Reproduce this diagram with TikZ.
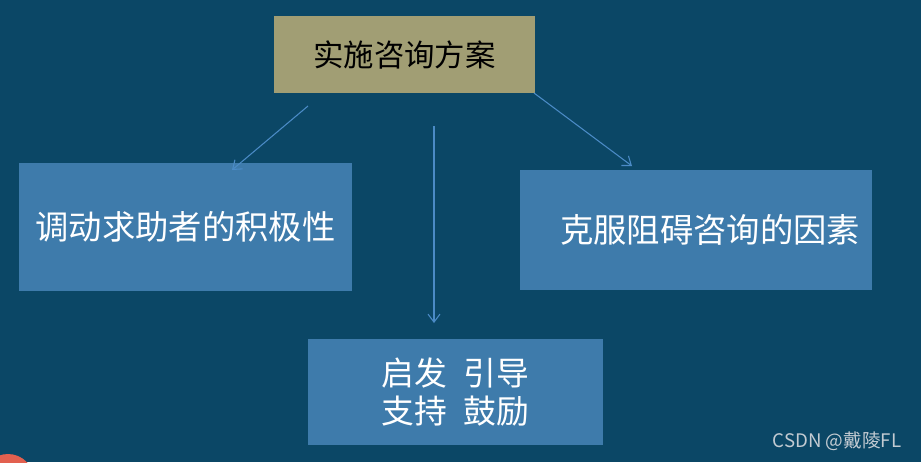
\documentclass[tikz,border=0pt]{standalone}
\usepackage{fontspec}
\newfontfamily\cjk{Noto Sans CJK SC}
\usetikzlibrary{arrows.meta}
\definecolor{bgblue}{HTML}{0B4766}
\definecolor{boxblue}{HTML}{3E7BAB}
\definecolor{olive}{HTML}{A19E74}
\definecolor{arrowblue}{HTML}{4B8BC6}
\definecolor{redc}{HTML}{E2604F}
\definecolor{wm}{HTML}{C3CBD2}
\tikzset{
  bluebox/.style={fill=boxblue, draw=none, inner sep=0pt, text=white, font=\cjk\fontsize{25}{29}\selectfont, align=center},
  topbox/.style={fill=olive, draw=none, inner sep=0pt, text=black, font=\cjk\fontsize{22.8}{26}\selectfont},
  conn/.style={draw=arrowblue, line width=0.8pt, -{Straight Barb[length=6pt,width=9pt]}}
}
\begin{document}
\begin{tikzpicture}[x=0.75pt,y=-0.75pt]
\fill[bgblue] (0,0) rectangle (921,462);
\useasboundingbox (0,0) rectangle (921,462);
\begin{scope}
\clip (0,0) rectangle (921,462);
\fill[redc] (8,480) circle (26);
\end{scope}
\node[topbox, minimum width=261*0.75pt, minimum height=77*0.75pt] (top) at (404.5,54.5) {实施咨询方案};
\node[bluebox, minimum width=333*0.75pt, minimum height=128*0.75pt] (left) at (185.5,227) {调动求助者的积极性};
\node[bluebox, minimum width=352*0.75pt, minimum height=120*0.75pt] (right) at (696,230) {\hspace*{21pt}克服阻碍咨询的因素};
\node[bluebox, minimum width=295*0.75pt, minimum height=106*0.75pt, font=\cjk\fontsize{24.6}{28}\selectfont] (bottom) at (455.5,392) {启发\hspace{0.5em}引导\\支持\hspace{0.5em}鼓励};
\coordinate (a1s) at (308,106);
\coordinate (a1e) at (232,170);
\coordinate (a2s) at (434,126);
\coordinate (a2e) at (434,323);
\coordinate (a3s) at (534,93);
\coordinate (a3e) at (632,166);
\draw[conn] (a1s) -- (a1e);
\draw[conn] (a2s) -- (a2e);
\draw[conn] (a3s) -- (a3e);
\node[text=wm, font=\cjk\fontsize{14}{16}\selectfont, anchor=east] (wmark) at (906,441) {CSDN @戴陵FL};
\end{tikzpicture}
\end{document}
